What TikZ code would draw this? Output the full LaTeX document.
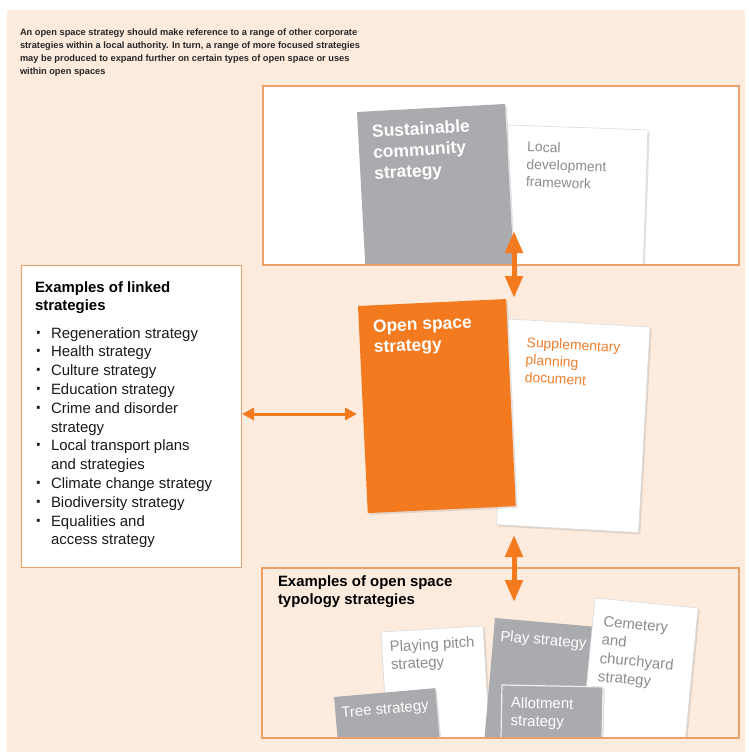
\documentclass[tikz,border=0pt]{standalone}
\usepackage{fontspec}
\setmainfont{Liberation Sans}
\usetikzlibrary{arrows.meta,shadows}
\definecolor{peach}{HTML}{FDEBDD}
\definecolor{orng}{HTML}{F47A20}
\definecolor{orngtext}{HTML}{EE7F2D}
\definecolor{bordr}{HTML}{EBA06A}
\definecolor{docgray}{HTML}{A9ABAE}
\definecolor{txtgray}{HTML}{8C8C8C}
\newcommand{\myfs}[2]{\fontsize{#1}{#2}\selectfont}
\begin{document}
\begin{tikzpicture}[x=1bp,y=-1bp,
  panel/.style={draw=bordr, line width=1.1bp},
  docshape/.style={anchor=north west, inner sep=0pt, outer sep=0pt,
    drop shadow={opacity=0.22, shadow xshift=1.8bp, shadow yshift=-1.8bp}},
  graydoc/.style={docshape, fill=docgray},
  whitedoc/.style={docshape, fill=white, draw=black!14, line width=0.6bp},
  orangedoc/.style={docshape, fill=orng},
  linetext/.style={anchor=base west, inner sep=0pt, outer sep=0pt},
  captext/.style={linetext, font=\bfseries\myfs{9.3}{12}, text=black!85},
  listhead/.style={linetext, font=\bfseries\myfs{15}{18}, text=black},
  listtext/.style={linetext, font=\myfs{15}{18}, text=black!90},
  bullettext/.style={linetext, font=\bfseries\myfs{20}{18}, text=black!90},
  bigwhite/.style={linetext, font=\bfseries\myfs{17.5}{20}, text=white},
  docgraytext/.style={linetext, font=\myfs{14}{17}, text=txtgray},
  docorangetext/.style={linetext, font=\myfs{14}{17}, text=orngtext},
  smallgraytext/.style={linetext, font=\myfs{15}{18}, text=txtgray},
  smallwhitetext/.style={linetext, font=\myfs{15}{18}, text=white},
  dblv/.style={draw=orng, line width=5bp,
    {Triangle[width=17bp,length=22bp]}-{Triangle[width=17bp,length=22bp]}},
  dblh/.style={draw=orng, line width=3bp,
    {Triangle[width=12bp,length=12bp]}-{Triangle[width=12bp,length=12bp]}}
]
\useasboundingbox (0,0) rectangle (749,752);
% background
\fill[peach] (7,10) rectangle (745,752);

% caption
\foreach \t [count=\i from 0] in {An open space strategy should make reference to a range of other corporate,
  strategies within a local authority. In turn{,} a range of more focused strategies,
  may be produced to expand further on certain types of open space or uses,
  within open spaces}{
  \node[captext] (cap\i) at (20,{35.7+12.9*\i}) {\t};
}

% ---------- top box ----------
\node[fill=white, minimum width=476bp, minimum height=179bp, anchor=north west, inner sep=0pt] (topbox) at (263,86) {};
\begin{scope}
  \clip (263,86) rectangle (739,265);
  \begin{scope}[shift={(508,125)}, rotate=-2.0, transform shape]
    \node[whitedoc, minimum width=140bp, minimum height=180bp] (ldf) at (0,0) {};
    \node[docgraytext] (ldf1) at (20,26) {Local};
    \node[docgraytext] (ldf2) at (20,43.5) {development};
    \node[docgraytext] (ldf3) at (20,61) {framework};
  \end{scope}
  \begin{scope}[shift={(357,112)}, rotate=3.1, transform shape]
    \node[graydoc, minimum width=148.2bp, minimum height=200bp] (scs) at (0,0) {};
    \node[bigwhite] (scs1) at (14,26) {Sustainable};
    \node[bigwhite] (scs2) at (14,47) {community};
    \node[bigwhite] (scs3) at (14,68) {strategy};
  \end{scope}
\end{scope}
\draw[panel] (263,86) rectangle (739,265);

% ---------- left box ----------
\node[panel, fill=white, minimum width=220bp, minimum height=302bp, anchor=north west, inner sep=0pt] (linkbox) at (21,265) {};
\node[listhead] (lh1) at (35,292) {Examples of linked};
\node[listhead] (lh2) at (35,310.5) {strategies};
\foreach \t/\b [count=\i from 0] in {Regeneration strategy/1, Health strategy/1, Culture strategy/1,
  Education strategy/1, Crime and disorder/1, strategy/0, Local transport plans/1, and strategies/0,
  Climate change strategy/1, Biodiversity strategy/1, Equalities and/1, access strategy/0}{
  \node[listtext] (li\i) at (51,{338+18.8*\i}) {\t};
  \ifnum\b=1 \node[bullettext] (bu\i) at (35.5,{339+18.8*\i}) {·};\fi
}

% ---------- centre documents ----------
\begin{scope}[shift={(508,319)}, rotate=-3.2, transform shape]
  \node[whitedoc, minimum width=142.2bp, minimum height=206bp] (spd) at (0,0) {};
  \node[docorangetext] (spd1) at (20,27) {Supplementary};
  \node[docorangetext] (spd2) at (20,44.5) {planning};
  \node[docorangetext] (spd3) at (20,62) {document};
\end{scope}
\begin{scope}[shift={(358,306)}, rotate=2.7, transform shape]
  \node[orangedoc, minimum width=148.2bp, minimum height=207.3bp] (oss) at (0,0) {};
  \node[bigwhite] (oss1) at (14,27) {Open space};
  \node[bigwhite] (oss2) at (14,47.5) {strategy};
\end{scope}

% ---------- bottom box ----------
\node[fill=peach, minimum width=477bp, minimum height=170bp, anchor=north west, inner sep=0pt] (typbox) at (262,568) {};
\node[listhead] (bt1) at (278,586) {Examples of open space};
\node[listhead] (bt2) at (278,604.5) {typology strategies};
\begin{scope}
  \clip (262,568) rectangle (739,738);
  \begin{scope}[shift={(381,632)}, rotate=3.4, transform shape]
    \node[whitedoc, minimum width=102.2bp, minimum height=150bp] (pps) at (0,0) {};
    \node[smallgraytext] (pps1) at (8,20.5) {Playing pitch};
    \node[smallgraytext] (pps2) at (8,38.5) {strategy};
  \end{scope}
  \begin{scope}[shift={(334,697)}, rotate=5.0, transform shape]
    \node[graydoc, minimum width=101.6bp, minimum height=80bp] (trs) at (0,0) {};
    \node[smallwhitetext] (trs1) at (6,21.5) {Tree strategy};
  \end{scope}
  \begin{scope}[shift={(495,618)}, rotate=-5.0, transform shape]
    \node[graydoc, minimum width=104bp, minimum height=140bp] (pls) at (0,0) {};
    \node[smallwhitetext] (pls1) at (7,22.5) {Play strategy};
  \end{scope}
  \begin{scope}[shift={(595,598)}, rotate=-5.5, transform shape]
    \node[whitedoc, minimum width=103.5bp, minimum height=160bp] (ccs) at (0,0) {};
    \node[smallgraytext, anchor=north west, align=left, font=\myfs{15}{18.5}] (ccs1) at (10.7,17)
      {Cemetery\\and\\churchyard\\strategy};
  \end{scope}
  \begin{scope}[shift={(502,685)}, rotate=-1.1, transform shape]
    \node[graydoc, draw=white!80!docgray, line width=1.2bp, minimum width=101bp, minimum height=80bp] (als) at (0,0) {};
    \node[smallwhitetext] (als1) at (9.4,22.8) {Allotment};
    \node[smallwhitetext] (als2) at (9.4,40.6) {strategy};
  \end{scope}
\end{scope}
\draw[panel] (262,568) rectangle (739,738);

% ---------- connectors ----------
\coordinate (topA) at (514,231);
\coordinate (topB) at (514,298);
\coordinate (botA) at (514,535);
\coordinate (botB) at (514,602);
\coordinate (lftA) at (242,414);
\coordinate (lftB) at (357,414);
\draw[dblv] (topA) -- (topB);
\draw[dblv] (botA) -- (botB);
\draw[dblh] (lftA) -- (lftB);
\end{tikzpicture}
\end{document}
